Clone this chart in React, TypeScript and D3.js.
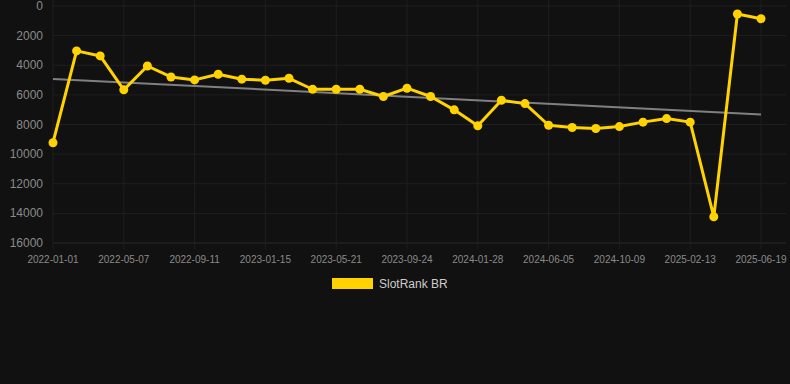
import React from "react";
import * as d3 from "d3";

const categories: string[] = [
  "2022-01-01", "2022-02-12", "2022-03-26", "2022-05-07", "2022-06-18", "2022-07-30",
  "2022-09-11", "2022-10-23", "2022-12-04", "2023-01-15", "2023-02-26", "2023-04-09",
  "2023-05-21", "2023-07-02", "2023-08-13", "2023-09-24", "2023-11-05", "2023-12-17",
  "2024-01-28", "2024-03-10", "2024-04-21", "2024-06-05", "2024-07-17", "2024-08-28",
  "2024-10-09", "2024-11-20", "2025-01-01", "2025-02-13", "2025-03-27", "2025-05-08",
  "2025-06-19",
];

const rankValues: number[] = [
  9230, 3030, 3370, 5660, 4050, 4790, 4990, 4610, 4940, 5010, 4880, 5620,
  5620, 5620, 6110, 5550, 6110, 7010, 8090, 6360, 6590, 8050, 8200, 8270,
  8140, 7840, 7600, 7840, 14230, 540, 860,
];

const trendValues: number[] = [4920, 7330];

const yTicks: number[] = [0, 2000, 4000, 6000, 8000, 10000, 12000, 14000, 16000];

const seriesName = "SlotRank BR";

export default function App() {
  const W = 790;
  const H = 384;
  const left = 53;
  const right = 761;
  const top = 6;
  const bottom = 243;
  const gridRight = 786;

  const x = d3.scalePoint<number>().domain(d3.range(categories.length)).range([left, right]);
  const y = d3.scaleLinear().domain([0, 16000]).range([top, bottom]);

  const line = d3
    .line<number>()
    .x((_, i) => x(i) as number)
    .y((d) => y(d));

  const labeled = categories.map((c, i) => ({ c, i })).filter((d) => d.i % 3 === 0);
  const gold = "#ffd200";
  const gridColor = "#1f1f1f";
  const font = "Arial, 'Liberation Sans', sans-serif";

  return (
    <svg
      width={W}
      height={H}
      style={{ position: "absolute", left: 0, top: 0, background: "#111111" }}
    >
      <rect x={0} y={0} width={W} height={H} fill="#111111" />
      {yTicks.map((t) => (
        <g key={t}>
          <line x1={left} x2={gridRight} y1={y(t)} y2={y(t)} stroke={t === 16000 ? "#2a2a2a" : gridColor} strokeWidth={1} />
          <text x={43} y={y(t) + 4} textAnchor="end" fill="#8a8a8a" fontSize={12} fontFamily={font}>
            {t}
          </text>
        </g>
      ))}
      {labeled.map(({ c, i }) => (
        <g key={c}>
          <line x1={x(i)} x2={x(i)} y1={0} y2={bottom + 6} stroke={gridColor} strokeWidth={1} />
          <text x={x(i)} y={263} textAnchor="middle" fill="#8a8a8a" fontSize={10} fontFamily={font}>
            {c}
          </text>
        </g>
      ))}
      <line
        x1={x(0)}
        x2={x(categories.length - 1)}
        y1={y(trendValues[0])}
        y2={y(trendValues[1])}
        stroke="#808080"
        strokeWidth={2}
      />
      <path d={line(rankValues) || ""} fill="none" stroke={gold} strokeWidth={3} strokeLinejoin="round" />
      {rankValues.map((v, i) => (
        <circle key={i} cx={x(i)} cy={y(v)} r={4.5} fill={gold} />
      ))}
      <rect x={332} y={278} width={41} height={11} fill={gold} />
      <text x={379} y={288} fill="#cccccc" fontSize={12} fontFamily={font}>
        {seriesName}
      </text>
    </svg>
  );
}
